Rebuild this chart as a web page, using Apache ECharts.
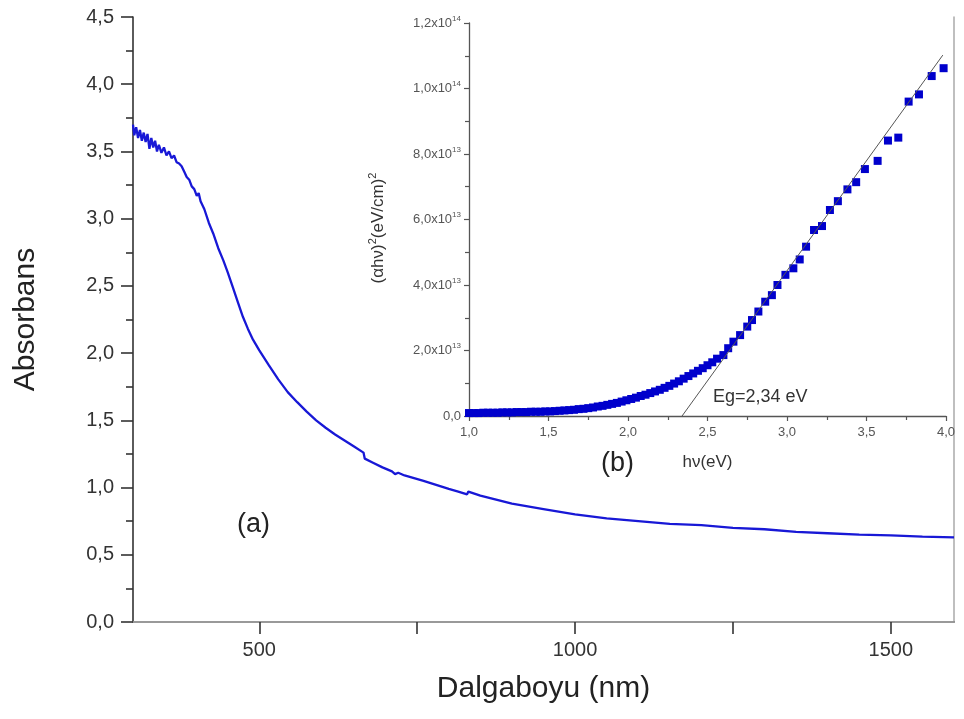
<!DOCTYPE html>
<html>
<head>
<meta charset="utf-8">
<script src="https://cdn.jsdelivr.net/npm/echarts@6/dist/echarts.min.js"></script>
<style>
html,body{margin:0;padding:0;background:#fff;}
#chart{width:964px;height:719px;}
</style>
</head>
<body>
<div id="chart"></div>
<script>
// ---- Main spectrum (a): wavelength (nm) vs absorbance ----
const wavelength = [300,302,305,308,311,314,317,320,323,326,329,332,335,338,341,345,349,353,357,361,365,369,373,377,381,385,389,393,397,401,404,407,410,413,420,427,435,443,450,458,466,474,482,490,500,515,530,545,560,575,590,605,620,635,650,665,667,680,695,710,715,720,730,745,760,780,800,815,829,831,850,875,900,950,1000,1050,1100,1150,1200,1250,1300,1350,1400,1450,1500,1550,1600];
const absorbance = [3.70,3.62,3.68,3.60,3.66,3.58,3.64,3.57,3.63,3.52,3.60,3.53,3.58,3.50,3.55,3.49,3.53,3.47,3.50,3.45,3.47,3.42,3.41,3.39,3.35,3.31,3.29,3.24,3.22,3.17,3.19,3.13,3.14,3.07,2.97,2.89,2.78,2.69,2.60,2.49,2.38,2.27,2.18,2.10,2.02,1.91,1.805,1.71,1.635,1.565,1.50,1.445,1.395,1.35,1.305,1.26,1.215,1.185,1.15,1.12,1.10,1.11,1.09,1.07,1.05,1.02,0.99,0.97,0.95,0.97,0.94,0.91,0.88,0.84,0.80,0.77,0.75,0.73,0.72,0.70,0.69,0.67,0.66,0.65,0.645,0.635,0.63];
const mainXLabelValues = [500,1000,1500];
const mainXTickValues = [500,750,1000,1250,1500];

// ---- Inset (b): photon energy (eV) vs (alpha h nu)^2 in units of 1e13 ----
const photonEnergy = [1.00,1.03,1.06,1.09,1.12,1.15,1.18,1.21,1.24,1.27,1.30,1.33,1.36,1.39,1.42,1.45,1.48,1.51,1.54,1.57,1.60,1.63,1.66,1.69,1.72,1.75,1.78,1.81,1.84,1.87,1.90,1.93,1.96,1.99,2.02,2.05,2.08,2.11,2.14,2.17,2.20,2.23,2.26,2.29,2.32,2.35,2.38,2.41,2.44,2.47,2.50,2.53,2.56,2.60,2.63,2.663,2.705,2.75,2.78,2.82,2.863,2.905,2.94,2.99,3.04,3.08,3.12,3.17,3.22,3.27,3.32,3.38,3.435,3.49,3.57,3.635,3.70,3.765,3.83,3.91,3.985];
const alphaHvSq = [0.09,0.09,0.09,0.10,0.10,0.10,0.10,0.11,0.11,0.11,0.12,0.12,0.12,0.13,0.13,0.13,0.14,0.14,0.15,0.16,0.17,0.18,0.19,0.21,0.22,0.24,0.26,0.29,0.31,0.34,0.37,0.40,0.44,0.48,0.52,0.56,0.61,0.65,0.70,0.75,0.80,0.86,0.92,0.99,1.06,1.14,1.22,1.30,1.38,1.46,1.55,1.64,1.75,1.86,2.07,2.27,2.47,2.73,2.93,3.19,3.49,3.69,4.00,4.31,4.51,4.78,5.17,5.68,5.80,6.29,6.56,6.92,7.14,7.54,7.79,8.41,8.50,9.60,9.82,10.38,10.62];
const fitLineX = [2.34, 3.98];
const fitLineY = [0, 11.02];
const insetYTickValues = [0,2,4,6,8,10,12];
const insetYTickLabels = ['0,0','2,0x10{s|13}','4,0x10{s|13}','6,0x10{s|13}','8,0x10{s|13}','1,0x10{s|14}','1,2x10{s|14}'];

const FONT = 'Liberation Sans, Arial, sans-serif';
const chart = echarts.init(document.getElementById('chart'), null, {renderer:'canvas'});

const mainData = wavelength.map((w,i)=>[w, absorbance[i]]);
const insetData = photonEnergy.map((e,i)=>[e, alphaHvSq[i]]);
const fitData = fitLineX.map((x,i)=>[x, fitLineY[i]]);

const axisDark = {lineStyle:{color:'#333', width:1.6}};
const option = {
  animation:false,
  backgroundColor:'#fff',
  grid:[
    {left:133, top:17, width:821, height:605},
    {left:469, top:23, width:477, height:393}
  ],
  xAxis:[
    {gridIndex:0, type:'value', min:300, max:1600, position:'bottom',
     axisLine:axisDark, splitLine:{show:false},
     axisTick:{show:true, inside:false, length:12, lineStyle:{color:'#333', width:1.6}, customValues:mainXTickValues},
     axisLabel:{customValues:mainXLabelValues, color:'#333', fontSize:20, fontFamily:FONT, margin:18,
       formatter:v=>String(v)},
     name:'Dalgaboyu (nm)', nameLocation:'middle', nameGap:52,
     nameTextStyle:{fontSize:30, color:'#222', fontFamily:FONT}},
    {gridIndex:0, type:'value', min:300, max:1600, position:'top',
     axisLine:{show:true, lineStyle:{color:'#aaa', width:1.5}}, axisTick:{show:false}, axisLabel:{show:false}, splitLine:{show:false}},
    {gridIndex:1, type:'value', min:1, max:4, interval:0.5, position:'bottom',
     axisLine:{lineStyle:{color:'#555', width:1.3}}, splitLine:{show:false},
     axisTick:{length:5, lineStyle:{color:'#555', width:1.2}},
     minorTick:{show:true, splitNumber:2, length:4, lineStyle:{color:'#555', width:1.2}},
     axisLabel:{color:'#555', fontSize:13, fontFamily:FONT, margin:10,
       formatter:v=>v.toFixed(1).replace('.',',')},
     name:'h\u03bd(eV)', nameLocation:'middle', nameGap:38,
     nameTextStyle:{fontSize:17, color:'#333', fontFamily:FONT}}
  ],
  yAxis:[
    {gridIndex:0, type:'value', min:0, max:4.5, interval:0.5, position:'left',
     axisLine:axisDark, splitLine:{show:false},
     axisTick:{length:12, lineStyle:{color:'#333', width:1.6}},
     minorTick:{show:true, splitNumber:2, length:7, lineStyle:{color:'#333', width:1.6}},
     axisLabel:{color:'#333', fontSize:20, fontFamily:FONT, margin:19,
       formatter:v=>v.toFixed(1).replace('.',',')},
     name:'Absorbans', nameLocation:'middle', nameGap:92, nameRotate:90,
     nameTextStyle:{fontSize:30, color:'#222', fontFamily:FONT}},
    {gridIndex:0, type:'value', min:0, max:4.5, position:'right',
     axisLine:{show:true, lineStyle:{color:'#aaa', width:1.5}}, axisTick:{show:false}, axisLabel:{show:false}, splitLine:{show:false}},
    {gridIndex:1, type:'value', min:0, max:12, interval:2, position:'left',
     axisLine:{show:true, lineStyle:{color:'#555', width:1.3}}, splitLine:{show:false},
     axisTick:{show:true, length:5, lineStyle:{color:'#555', width:1.2}},
     minorTick:{show:true, splitNumber:2, length:4, lineStyle:{color:'#555', width:1.2}},
     axisLabel:{color:'#555', fontSize:13, fontFamily:FONT, margin:8,
       formatter:v=>{const i=insetYTickValues.indexOf(Math.round(v)); return i>=0?insetYTickLabels[i]:'';},
       rich:{s:{fontSize:8, color:'#555', fontFamily:FONT, padding:[0,0,9,0]}}}}
  ],
  series:[
    {type:'line', xAxisIndex:0, yAxisIndex:0, data:mainData, showSymbol:false, symbol:'none',
     lineStyle:{color:'#1818d6', width:2.3}, z:3},
    {type:'scatter', xAxisIndex:2, yAxisIndex:2, data:insetData, symbol:'rect', symbolSize:8,
     itemStyle:{color:'#0000cc', opacity:1}, z:4},
    {type:'line', xAxisIndex:2, yAxisIndex:2, data:fitData, symbol:'none',
     lineStyle:{color:'#555', width:1}, z:5}
  ],
  graphic:[
    {type:'text', x:378, y:228, rotation:Math.PI/2,
     style:{text:'(\u03b1h\u03bd){p|2}(eV/cm){p|2}', fontSize:17, fill:'#333', fontFamily:FONT,
       align:'center', verticalAlign:'middle',
       rich:{p:{fontSize:11, fill:'#333', fontFamily:FONT, padding:[0,0,10,0]}}}},
    {type:'text', left:237, top:511, style:{text:'(a)', fontSize:27, fill:'#222', fontFamily:FONT}},
    {type:'text', left:601, top:450, style:{text:'(b)', fontSize:27, fill:'#222', fontFamily:FONT}},
    {type:'text', left:713, top:388, style:{text:'Eg=2,34 eV', fontSize:18, fill:'#333', fontFamily:FONT}}
  ]
};
chart.setOption(option);
</script>
</body>
</html>
